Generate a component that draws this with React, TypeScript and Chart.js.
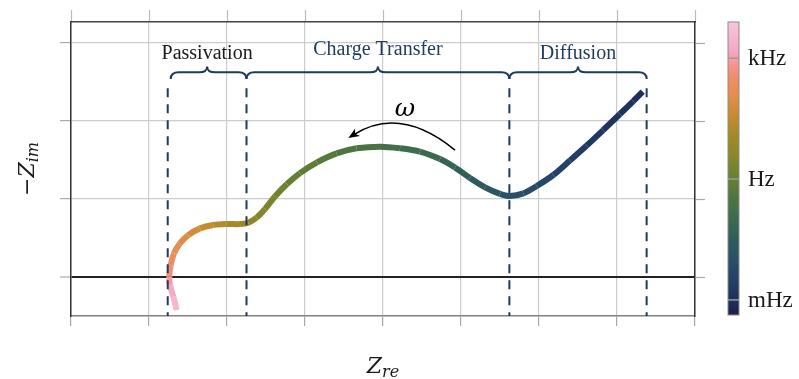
import React, { useEffect, useRef } from 'react';
import { Chart, registerables } from 'chart.js';

Chart.register(...registerables);

// Nyquist trace: real part, negative imaginary part and log10 frequency per point
const reValues = [
  1.355, 1.312, 1.269, 1.26, 1.278, 1.321, 1.397, 1.504, 1.654, 1.824, 1.996, 2.167, 2.273,
  2.381, 2.487, 2.615, 2.769, 2.936, 3.154, 3.406, 3.663, 3.962, 4.218, 4.474, 4.731, 4.923,
  5.115, 5.308, 5.5, 5.628, 5.799, 5.971, 6.183, 6.397, 6.612, 6.824, 7.038, 7.209, 7.329,
];
const imValues = [
  -0.423, -0.253, -0.103, 0.004, 0.154, 0.304, 0.432, 0.538, 0.624, 0.667, 0.679, 0.679, 0.696,
  0.763, 0.872, 1.032, 1.192, 1.333, 1.471, 1.586, 1.65, 1.671, 1.651, 1.609, 1.513, 1.404,
  1.269, 1.15, 1.067, 1.038, 1.073, 1.167, 1.308, 1.494, 1.686, 1.885, 2.09, 2.256, 2.376,
];
const logFreq = [
  3.68, 3.39, 3.1, 2.81, 2.51, 2.29, 2.08, 1.86, 1.64, 1.42, 1.2, 0.98, 0.76,
  0.54, 0.4, 0.25, 0.03, -0.12, -0.26, -0.41, -0.55, -0.7, -0.85, -0.99, -1.14, -1.28,
  -1.5, -1.72, -1.87, -2.01, -2.16, -2.31, -2.45, -2.6, -2.74, -2.89, -2.96, -3.04, -3.11,
];

// Axis ticks (unlabelled)
const xTicks = [0, 1, 2, 3, 4, 5, 6, 7, 8];
const yTicks = [0, 1, 2, 3];
const xRange = [0, 8];
const yRange = [-0.5, 3.27];

// Colour bar (log10 frequency)
const freqRange = [-3.4, 3.9];
const freqTicks = [3, 0, -3];
const freqTickLabels = ['kHz', 'Hz', 'mHz'];

// Colour map, position 0 = highest frequency
const cmapPos = [0, 0.096, 0.147, 0.18, 0.249, 0.317, 0.386, 0.454, 0.532, 0.608, 0.676, 0.744, 0.812, 0.88, 0.949, 1];
const cmapColors = [
  '#f7c6dc', '#f5a8c4', '#f79490', '#f28e70', '#e38e4c', '#c98b32', '#a38a28', '#8b8729',
  '#678032', '#4c7542', '#3b6950', '#2f5c5c', '#295068', '#244169', '#1f305e', '#1c1f4c',
];

// Process regions along the real axis
const regionBounds = [1.24, 2.25, 5.62, 7.38];
const regionNames = ['Passivation', 'Charge Transfer', 'Diffusion'];
const regionLabelY = [2.795, 2.85, 2.795];
const regionTextColors = ['#1a1a1a', '#1f3a5f', '#1f3a5f'];
const dashTop = 2.42;
const braceEndY = 2.54;
const braceMidY = 2.625;
const braceTipY = 2.7;

// Direction-of-decreasing-frequency arrow
const arrowStart = [4.923, 1.628];
const arrowControl = [4.218, 2.205];
const arrowEnd = [3.577, 1.795];
const omegaPos = [4.282, 2.064];

const NAVY = '#1f3a5f';

function hexToRgb(h: string) {
  const n = parseInt(h.slice(1), 16);
  return [(n >> 16) & 255, (n >> 8) & 255, n & 255];
}

function colorAtPos(t: number) {
  const tt = Math.min(1, Math.max(0, t));
  for (let i = 0; i < cmapPos.length - 1; i++) {
    if (tt <= cmapPos[i + 1]) {
      const f = (tt - cmapPos[i]) / (cmapPos[i + 1] - cmapPos[i]);
      const a = hexToRgb(cmapColors[i]);
      const b = hexToRgb(cmapColors[i + 1]);
      const c = a.map((v, k) => Math.round(v + (b[k] - v) * f));
      return `rgb(${c[0]},${c[1]},${c[2]})`;
    }
  }
  return cmapColors[cmapColors.length - 1];
}

function colorAtFreq(lf: number) {
  return colorAtPos((freqRange[1] - lf) / (freqRange[1] - freqRange[0]));
}

type Part = { text: string; font: string; dy?: number };

function drawMath(ctx: CanvasRenderingContext2D, parts: Part[], cx: number, baseline: number) {
  let total = 0;
  const widths = parts.map((p) => {
    ctx.font = p.font;
    const w = ctx.measureText(p.text).width;
    total += w;
    return w;
  });
  let x = cx - total / 2;
  ctx.textAlign = 'left';
  ctx.textBaseline = 'alphabetic';
  parts.forEach((p, i) => {
    ctx.font = p.font;
    ctx.fillText(p.text, x, baseline + (p.dy || 0));
    x += widths[i];
  });
}

const decorations = {
  id: 'decorations',
  afterDatasetsDraw(chart: any) {
    const { ctx, chartArea, scales } = chart;
    const xs = scales.x;
    const ys = scales.y;
    const px = (v: number) => xs.getPixelForValue(v);
    const py = (v: number) => ys.getPixelForValue(v);
    ctx.save();

    // dashed region boundaries
    ctx.strokeStyle = NAVY;
    ctx.lineWidth = 2;
    ctx.setLineDash([9, 7]);
    regionBounds.forEach((b) => {
      ctx.beginPath();
      ctx.moveTo(px(b), py(dashTop));
      ctx.lineTo(px(b), chartArea.bottom);
      ctx.stroke();
    });
    ctx.setLineDash([]);

    // curly braces
    ctx.lineWidth = 2;
    ctx.strokeStyle = NAVY;
    const yE = py(braceEndY);
    const yM = py(braceMidY);
    const yT = py(braceTipY);
    const r = 8;
    for (let i = 0; i < regionNames.length; i++) {
      const x1 = px(regionBounds[i]) + (i === 0 ? 3 : 0);
      const x2 = px(regionBounds[i + 1]);
      const xm = (px(regionBounds[i]) + x2) / 2;
      ctx.beginPath();
      ctx.moveTo(x1, yE);
      ctx.quadraticCurveTo(x1, yM, x1 + r, yM);
      ctx.lineTo(xm - r, yM);
      ctx.quadraticCurveTo(xm, yM, xm, yT);
      ctx.quadraticCurveTo(xm, yM, xm + r, yM);
      ctx.lineTo(x2 - r, yM);
      ctx.quadraticCurveTo(x2, yM, x2, yE);
      ctx.stroke();

      ctx.font = '20px "Liberation Serif", serif';
      ctx.fillStyle = regionTextColors[i];
      ctx.textAlign = 'center';
      ctx.textBaseline = 'alphabetic';
      ctx.fillText(regionNames[i], xm, py(regionLabelY[i]));
    }

    // omega arrow
    const sx = px(arrowStart[0]);
    const sy = py(arrowStart[1]);
    const cx = px(arrowControl[0]);
    const cy = py(arrowControl[1]);
    const ex = px(arrowEnd[0]);
    const ey = py(arrowEnd[1]);
    let dx = ex - cx;
    let dy = ey - cy;
    const len = Math.hypot(dx, dy);
    dx /= len;
    dy /= len;
    ctx.strokeStyle = '#000';
    ctx.fillStyle = '#000';
    ctx.lineWidth = 1.5;
    ctx.beginPath();
    ctx.moveTo(sx, sy);
    ctx.quadraticCurveTo(cx, cy, ex - dx * 4, ey - dy * 4);
    ctx.stroke();
    const tx = ex + dx * 2;
    const ty = ey + dy * 2;
    const bx = tx - dx * 11;
    const by = ty - dy * 11;
    ctx.beginPath();
    ctx.moveTo(tx, ty);
    ctx.lineTo(bx - dy * 4.5, by + dx * 4.5);
    ctx.lineTo(tx - dx * 8, ty - dy * 8);
    ctx.lineTo(bx + dy * 4.5, by - dx * 4.5);
    ctx.closePath();
    ctx.fill();

    ctx.font = 'italic 25px "DejaVu Serif", serif';
    ctx.textAlign = 'center';
    ctx.textBaseline = 'alphabetic';
    ctx.fillText('ω', px(omegaPos[0]), py(omegaPos[1]));

    ctx.restore();
  },
  afterDraw(chart: any) {
    const { ctx, chartArea, scales } = chart;
    const cb = scales.cb;
    ctx.save();

    // colour bar
    const top = cb.getPixelForValue(freqRange[1]);
    const bottom = cb.getPixelForValue(freqRange[0]) - 1;
    const left = chartArea.right + 33;
    const w = 11;
    const grad = ctx.createLinearGradient(0, top, 0, bottom);
    cmapPos.forEach((p, i) => grad.addColorStop(p, cmapColors[i]));
    ctx.fillStyle = grad;
    ctx.fillRect(left, top, w, bottom - top);
    ctx.strokeStyle = '#8a8a8a';
    ctx.lineWidth = 1;
    ctx.strokeRect(left, top, w, bottom - top);
    ctx.font = '23px "Liberation Serif", serif';
    ctx.fillStyle = '#1a1a1a';
    ctx.textAlign = 'left';
    ctx.textBaseline = 'middle';
    freqTicks.forEach((v, i) => {
      const y = cb.getPixelForValue(v);
      ctx.strokeStyle = '#9a9a9a';
      ctx.lineWidth = 1.5;
      ctx.beginPath();
      ctx.moveTo(left, y);
      ctx.lineTo(left + w, y);
      ctx.stroke();
      ctx.fillText(freqTickLabels[i], left + w + 9, y + 1);
    });

    // axis titles
    ctx.fillStyle = '#1a1a1a';
    const cxMid = (chartArea.left + chartArea.right) / 2;
    drawMath(
      ctx,
      [
        { text: 'Z', font: 'italic 22px "DejaVu Serif", serif' },
        { text: 're', font: 'italic 16px "DejaVu Serif", serif', dy: 4 },
      ],
      cxMid,
      373,
    );
    ctx.save();
    ctx.translate(34, (chartArea.top + chartArea.bottom) / 2);
    ctx.rotate(-Math.PI / 2);
    drawMath(
      ctx,
      [
        { text: '−', font: '22px "DejaVu Serif", serif' },
        { text: 'Z', font: 'italic 22px "DejaVu Serif", serif' },
        { text: 'im', font: 'italic 16px "DejaVu Serif", serif', dy: 4 },
      ],
      0,
      0,
    );
    ctx.restore();

    ctx.restore();
  },
};

const fixedTicks = (vals: number[]) => (scale: any) => {
  scale.ticks = vals.map((v) => ({ value: v }));
};

export default function App() {
  const canvasRef = useRef<HTMLCanvasElement | null>(null);

  useEffect(() => {
    const canvas = canvasRef.current;
    if (!canvas) return;
    const points = reValues.map((x, i) => ({ x, y: imValues[i] }));
    const chart = new Chart(canvas, {
      type: 'line',
      data: {
        datasets: [
          {
            data: points,
            borderWidth: 6,
            pointRadius: 0,
            tension: 0.3,
            fill: false,
            borderCapStyle: 'butt',
            borderJoinStyle: 'round',
            borderColor: colorAtFreq(logFreq[0]),
            segment: {
              borderColor: (c: any) =>
                colorAtFreq((logFreq[c.p0DataIndex] + logFreq[c.p1DataIndex]) / 2),
            },
          } as any,
        ],
      },
      options: {
        responsive: false,
        animation: false,
        devicePixelRatio: 1,
        layout: { padding: 0, autoPadding: false } as any,
        plugins: { legend: { display: false }, tooltip: { enabled: false } },
        events: [],
        scales: {
          x: {
            type: 'linear',
            axis: 'x',
            position: 'bottom',
            min: xRange[0],
            max: xRange[1],
            afterBuildTicks: fixedTicks(xTicks),
            ticks: { display: false },
            grid: { color: '#cccccc', lineWidth: 1.2, tickLength: 10, tickColor: '#aaaaaa', tickWidth: 1.2 },
            border: { color: '#808080', width: 1.5 },
            afterFit: (s: any) => {
              s.height = 63;
            },
          },
          x2: {
            type: 'linear',
            axis: 'x',
            position: 'top',
            min: xRange[0],
            max: xRange[1],
            afterBuildTicks: fixedTicks(xTicks),
            ticks: { display: false },
            grid: { drawOnChartArea: false, tickLength: 12, tickColor: '#bbbbbb', tickWidth: 1.2 },
            border: { color: '#444444', width: 1.5 },
            afterFit: (s: any) => {
              s.height = 22;
            },
          },
          y: {
            type: 'linear',
            axis: 'y',
            position: 'left',
            min: yRange[0],
            max: yRange[1],
            afterBuildTicks: fixedTicks(yTicks),
            ticks: { display: false },
            grid: {
              color: (c: any) => (c.tick && c.tick.value === 0 ? '#222222' : '#cccccc'),
              lineWidth: (c: any) => (c.tick && c.tick.value === 0 ? 2 : 1.2),
              tickLength: 11,
              tickColor: '#aaaaaa',
              tickWidth: 1.2,
            },
            border: { color: '#333333', width: 1.5 },
            afterFit: (s: any) => {
              s.width = 71;
            },
          },
          y2: {
            type: 'linear',
            axis: 'y',
            position: 'right',
            min: yRange[0],
            max: yRange[1],
            afterBuildTicks: fixedTicks(yTicks),
            ticks: { display: false },
            grid: { drawOnChartArea: false, tickLength: 10, tickColor: '#aaaaaa', tickWidth: 1.2 },
            border: { color: '#333333', width: 1.5 },
            afterFit: (s: any) => {
              s.width = 104;
            },
          },
          cb: {
            type: 'linear',
            axis: 'y',
            position: 'right',
            display: false,
            min: freqRange[0],
            max: freqRange[1],
          },
        } as any,
      },
      plugins: [decorations],
    });
    return () => chart.destroy();
  }, []);

  return (
    <canvas
      ref={canvasRef}
      width={799}
      height={379}
      style={{ position: 'fixed', left: 0, top: 0, width: 799, height: 379, display: 'block', background: '#ffffff' }}
    />
  );
}
